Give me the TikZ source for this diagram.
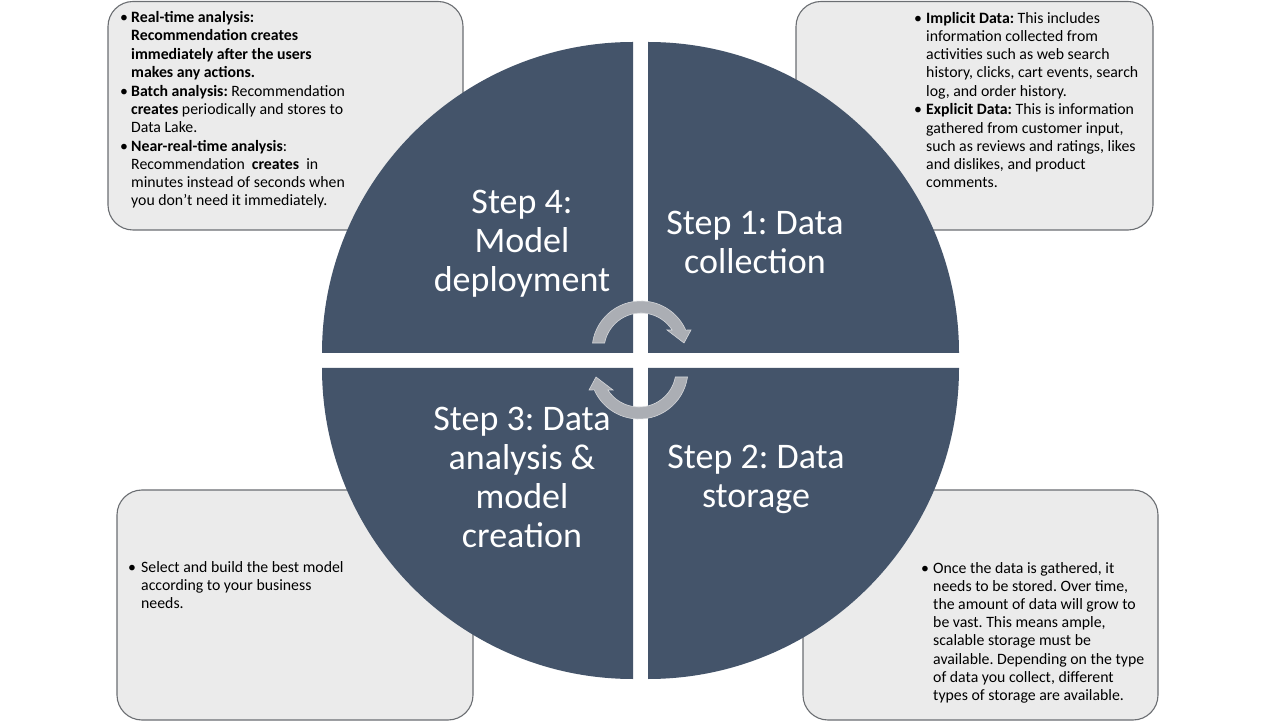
\documentclass[tikz,border=0pt]{standalone}
\usepackage{fontspec}
\setmainfont{Carlito}
\frenchspacing
\definecolor{quad}{HTML}{44546A}
\definecolor{boxfill}{HTML}{EBEBEB}
\definecolor{boxline}{HTML}{6B6E72}
\definecolor{arrowc}{HTML}{ABAEB4}
\definecolor{arrowedge}{HTML}{D4D6D9}
\newcommand{\bl}[1]{\makebox[#1][l]{•}}
\begin{document}
\frenchspacing
\begin{tikzpicture}[x=1pt,y=1pt,
  infobox/.style={draw=boxline, fill=boxfill, line width=1.1pt, rounded corners=25pt},
  quadrant/.style={fill=quad},
  steptext/.style={text=white, align=center, inner sep=0pt, font=\frenchspacing\fontsize{36}{39}\selectfont},
  boxtext/.style={anchor=base west, inner sep=0pt, text=black, font=\frenchspacing\fontsize{15.8}{18.2}\selectfont},
  cyclearrow/.style={fill=arrowc, draw=arrowedge, line width=0.6pt}]
\useasboundingbox (0,0) rectangle (1280,721);
\fill[white] (0,0) rectangle (1280,721);

% info boxes
\draw[infobox] (108,491) rectangle (463,719.5);
\draw[infobox] (796,491) rectangle (1153,719.5);
\draw[infobox] (117,1) rectangle (473,231);
\draw[infobox] (803,1) rectangle (1158,231);

% quadrants
\fill[quadrant] (633,368) -- ++(-311,0) arc[start angle=180, end angle=90, radius=311] -- cycle;
\fill[quadrant] (648,368) -- ++(0,311) arc[start angle=90, end angle=0, radius=311] -- cycle;
\fill[quadrant] (648,353) -- ++(311,0) arc[start angle=0, end angle=-90, radius=311] -- cycle;
\fill[quadrant] (633,353) -- ++(0,-311) arc[start angle=270, end angle=180, radius=311] -- cycle;

% cycle arrows
\begin{scope}[shift={(641,371)}]
\filldraw[cyclearrow] (171.8:49) arc[start angle=171.8, end angle=24, radius=49]
  -- (50,20) -- (43,7) -- (26,20) -- (32.7:37)
  arc[start angle=32.7, end angle=169.1, radius=37] -- cycle;
\end{scope}
\begin{scope}[shift={(639,351)}, rotate=180]
\filldraw[cyclearrow] (171.8:49) arc[start angle=171.8, end angle=24, radius=49]
  -- (50,20) -- (43,7) -- (26,20) -- (32.7:37)
  arc[start angle=32.7, end angle=169.1, radius=37] -- cycle;
\end{scope}

% step labels
\node[steptext] (s4) at (522,477) {Step 4:\\Model\\deployment};
\node[steptext] (s1) at (755,478.5) {Step 1: Data\\collection};
\node[steptext] (s3) at (522,244) {Step 3: Data\\analysis \&\\model\\creation};
\node[steptext] (s2) at (756,241.5) {Step 2: Data\\storage};

% box texts
\node[boxtext] (t4) at (120,698.3) {\begin{tabular}[t]{@{}l@{}l@{}}
\bl{11pt} & \textbf{Real-time analysis:}\\
 & \textbf{Recommendation creates}\\
 & \textbf{immediately after the users}\\
 & \textbf{makes any actions.}\\[0.6pt]
\bl{11pt} & \textbf{Batch analysis:} Recommendation\\
 & \textbf{creates} periodically and stores to\\
 & Data Lake.\\[0.6pt]
\bl{11pt} & \textbf{Near-real-time analysis}:\\
 & Recommendation \ \textbf{creates} \ in\\
 & minutes instead of seconds when\\
 & you don’t need it immediately.
\end{tabular}};

\node[boxtext] (t1) at (914,697.7) {\begin{tabular}[t]{@{}l@{}l@{}}
\bl{12pt} & \textbf{Implicit Data:} This includes\\
 & information collected from\\
 & activities such as web search\\
 & history, clicks, cart events, search\\
 & log, and order history.\\[0.6pt]
\bl{12pt} & \textbf{Explicit Data:} This is information\\
 & gathered from customer input,\\
 & such as reviews and ratings, likes\\
 & and dislikes, and product\\
 & comments.
\end{tabular}};

\node[boxtext] (t3) at (128,149) {\begin{tabular}[t]{@{}l@{}l@{}}
\bl{13pt} & Select and build the best model\\
 & according to your business\\
 & needs.
\end{tabular}};

\node[boxtext] (t2) at (921,148) {\begin{tabular}[t]{@{}l@{}l@{}}
\bl{12pt} & Once the data is gathered, it\\
 & needs to be stored. Over time,\\
 & the amount of data will grow to\\
 & be vast. This means ample,\\
 & scalable storage must be\\
 & available. Depending on the type\\
 & of data you collect, different\\
 & types of storage are available.
\end{tabular}};
\end{tikzpicture}
\end{document}
